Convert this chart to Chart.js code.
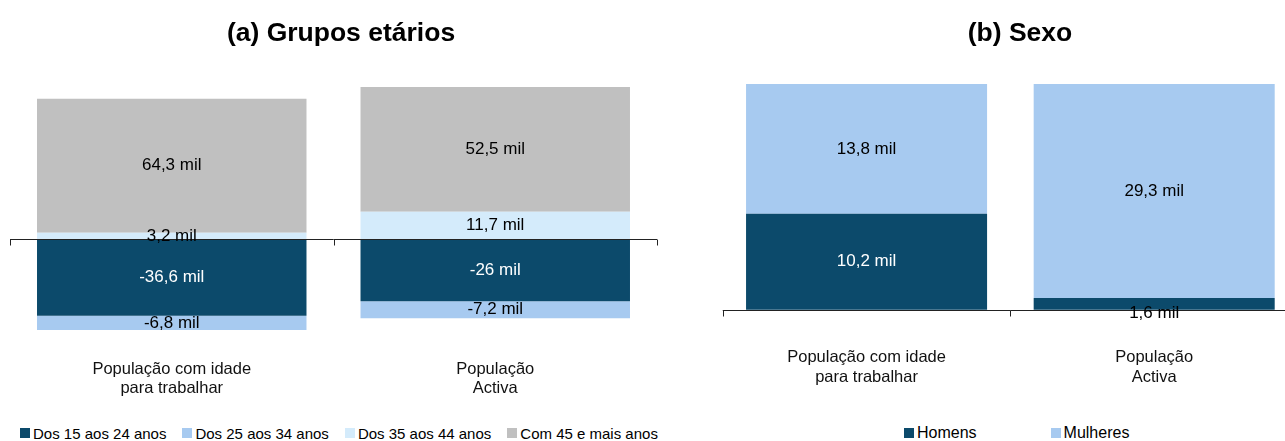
<!DOCTYPE html>
<html>
<head>
<meta charset="utf-8">
<script src="https://cdn.jsdelivr.net/npm/chart.js@4.4.1/dist/chart.umd.min.js"></script>
<style>
  html, body { margin: 0; padding: 0; background: #ffffff; overflow: hidden; width: 1285px; height: 441px; }
  body { position: relative; font-family: "Liberation Sans", Arial, sans-serif; color: #000; }
  canvas { position: absolute; top: 0; }
  #cA { left: 0; }
  #cB { left: 700px; }
  .title { position: absolute; top: 17px; line-height: 30px; font-weight: bold; font-size: 26.5px; white-space: nowrap; transform: translateX(-50%); }
  .legend { position: absolute; top: 424px; height: 18px; display: flex; align-items: center; white-space: nowrap; }
  .legend .item { display: flex; align-items: center; }
  .legend .box { width: 10px; height: 10px; margin-right: 3px; }
</style>
</head>
<body>
<canvas id="cA" width="680" height="406"></canvas>
<canvas id="cB" width="620" height="406"></canvas>
<div class="title" id="tA" style="left:341px">(a) Grupos etários</div>
<div class="title" id="tB" style="left:1020px">(b) Sexo</div>
<div class="legend" id="lA" style="left:20px; gap:16px; font-size:15px"></div>
<div class="legend" id="lB" style="left:904px; gap:74px; font-size:16px"></div>
<script>
// ---- Data (values in thousands, "mil") ----
const categoriesA = [['População com idade', 'para trabalhar'], ['População', 'Activa']];
const seriesNamesA = ['Dos 15 aos 24 anos', 'Dos 25 aos 34 anos', 'Dos 35 aos 44 anos', 'Com 45 e mais anos'];
const dos15a24 = [-36.6, -26.0];
const dos25a34 = [-6.8, -7.2];
const dos35a44 = [3.2, 11.7];
const com45mais = [64.3, 52.5];

const categoriesB = [['População com idade', 'para trabalhar'], ['População', 'Activa']];
const seriesNamesB = ['Homens', 'Mulheres'];
const homens = [10.2, 1.6];
const mulheres = [13.8, 29.3];

// ---- Styles ----
const colDark = '#0C4A6B';
const colLight = '#A7CAF0';
const colPale = '#D4EBFB';
const colGrey = '#C0C0C0';
const FONT = '"Liberation Sans", Arial, sans-serif';

// 100% stacked: share of each value in the sum of absolute values of its category
function shares(seriesList) {
  const n = seriesList[0].length;
  const totals = [];
  for (let i = 0; i < n; i++) {
    let s = 0;
    seriesList.forEach(arr => { s += Math.abs(arr[i]); });
    totals.push(s);
  }
  return seriesList.map(arr => arr.map((v, i) => v / totals[i] * 100));
}
function fmt(v) { return String(v).replace('.', ',') + ' mil'; }

const rawA = [dos15a24, dos25a34, dos35a44, com45mais];
const shA = shares(rawA);
const colorsA = [colDark, colLight, colPale, colGrey];
const labelColA = ['#ffffff', '#000000', '#000000', '#000000'];

const rawB = [homens, mulheres];
const shB = shares(rawB);
const colorsB = [colDark, colLight];
const labelColB = ['#ffffff', '#000000'];

const axisPlugin = {
  id: 'axisAndLabels',
  afterDatasetsDraw(chart) {
    const ctx = chart.ctx;
    const y = chart.scales.y.getPixelForValue(0);
    const ca = chart.chartArea;
    ctx.save();
    ctx.strokeStyle = '#222';
    ctx.lineWidth = 1;
    ctx.beginPath();
    const yy = Math.round(y) + 0.5;
    ctx.moveTo(ca.left, yy);
    ctx.lineTo(ca.right, yy);
    const n = chart.data.labels.length;
    const w = (ca.right - ca.left) / n;
    for (let i = 0; i <= n; i++) {
      const x = Math.round(ca.left + i * w) + 0.5;
      ctx.moveTo(x, yy);
      ctx.lineTo(x, yy + 6);
    }
    ctx.stroke();
    // data labels, centred in each segment
    const fs = 17;
    ctx.font = fs + 'px ' + FONT;
    ctx.textAlign = 'center';
    ctx.textBaseline = 'middle';
    chart.data.datasets.forEach((ds, di) => {
      const meta = chart.getDatasetMeta(di);
      meta.data.forEach((el, i) => {
        let cy = (el.y + el.base) / 2;
        let col = ds.labelColor;
        const h = Math.abs(el.base - el.y);
        if (col === '#ffffff' && h < fs) {
          // too thin for a white label inside: put it just outside, on the base side
          cy = el.base + (el.base >= el.y ? 1 : -1) * fs * 0.2;
          col = '#000000';
        }
        ctx.fillStyle = col;
        ctx.fillText(fmt(ds.raw[i]), el.x, cy);
      });
    });
    ctx.restore();
  }
};

function makeChart(id, labels, names, sh, raw, colors, labelCols, yMin, yMax, pad) {
  return new Chart(document.getElementById(id), {
    type: 'bar',
    data: {
      labels: labels,
      datasets: names.map((nm, i) => ({
        label: nm,
        data: sh[i],
        raw: raw[i],
        labelColor: labelCols[i],
        backgroundColor: colors[i],
        borderWidth: 0,
        barPercentage: pad.bar,
        categoryPercentage: 1
      }))
    },
    options: {
      responsive: false,
      animation: false,
      layout: { padding: { left: pad.left, right: pad.right, top: pad.top, bottom: pad.bottom } },
      plugins: { legend: { display: false }, tooltip: { enabled: false }, title: { display: false } },
      scales: {
        x: {
          stacked: true,
          grid: { display: false, drawTicks: false },
          border: { display: false },
          ticks: { color: '#111', font: { family: FONT, size: 16.5 }, padding: 4 }
        },
        y: { stacked: true, display: false, min: yMin, max: yMax }
      }
    },
    plugins: [axisPlugin]
  });
}

makeChart('cA', categoriesA, seriesNamesA, shA, rawA, colorsA, labelColA, -50, 70,
  { left: 10, right: 23, top: 77.5, bottom: 3.3, bar: 0.833 });
makeChart('cB', categoriesB, seriesNamesB, shB, rawB, colorsB, labelColB, -15, 110,
  { left: 22.75, right: 22, top: 61.5, bottom: 14.8, bar: 0.838 });

// HTML legends built from the series names/colours
function buildLegend(elId, names, colors) {
  const el = document.getElementById(elId);
  names.forEach((nm, i) => {
    const it = document.createElement('div');
    it.className = 'item';
    const b = document.createElement('span');
    b.className = 'box';
    b.style.background = colors[i];
    const t = document.createElement('span');
    t.textContent = nm;
    it.appendChild(b); it.appendChild(t);
    el.appendChild(it);
  });
}
buildLegend('lA', seriesNamesA, colorsA);
buildLegend('lB', seriesNamesB, colorsB);
</script>
</body>
</html>
